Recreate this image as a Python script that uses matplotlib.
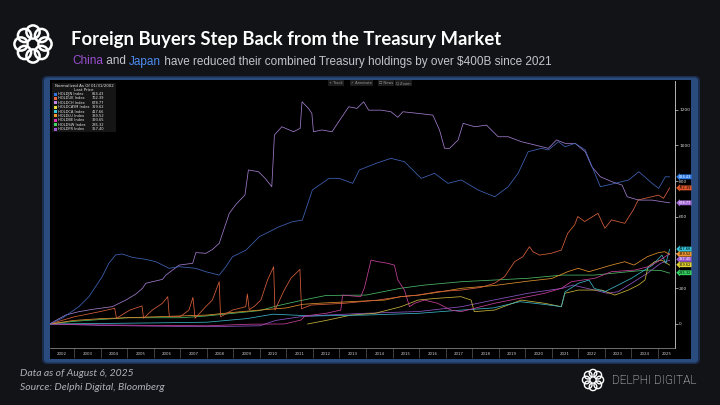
import matplotlib
matplotlib.use('Agg')
import matplotlib.pyplot as plt
from matplotlib.patches import FancyBboxPatch, Rectangle, Circle
import matplotlib.transforms as mtransforms
import numpy as np

# ---------------- data ----------------
years = list(range(2002, 2026))

jn_t = [2002.08, 2002.55, 2003.18, 2003.56, 2004.06, 2004.31, 2004.57, 2004.82, 2005.2, 2005.7,
        2006.08, 2006.58, 2006.96, 2007.58, 2007.96, 2008.47, 2008.72, 2008.97, 2009.48, 2009.98,
        2010.73, 2011.23, 2011.6, 2011.98, 2012.61, 2012.99, 2013.5, 2013.75, 2014.38, 2014.94,
        2015.45, 2016.08, 2016.58, 2017.09, 2017.59, 2018.22, 2018.85, 2019.36, 2019.73, 2020.11,
        2020.61, 2020.87, 2021.25, 2021.5, 2021.88, 2022.26, 2022.83, 2023.39, 2023.9, 2024.28,
        2024.78, 2025.03, 2025.28, 2025.44]
jn_v = [0, 32, 97, 153, 265, 340, 387, 392, 373, 362,
        349, 312, 321, 312, 293, 274, 321, 377, 414, 489,
        545, 573, 582, 751, 816, 816, 788, 863, 900, 928,
        909, 816, 844, 788, 807, 751, 713, 769, 844, 965,
        984, 975, 1021, 993, 1012, 975, 769, 788, 807, 853,
        788, 760, 825, 824]

ch_t = [2002.08, 2002.68, 2003.18, 2003.69, 2004.44, 2004.95, 2005.33, 2005.58, 2005.7, 2006.33,
        2006.46, 2006.96, 2007.47, 2007.59, 2007.97, 2008.22, 2008.47, 2008.85, 2009.1, 2009.44,
        2009.57, 2009.95, 2010.2, 2010.45, 2010.55, 2010.83, 2011.27, 2011.52, 2011.59, 2011.83,
        2011.96, 2012.02, 2012.34, 2012.72, 2012.97, 2013.35, 2013.66, 2013.91, 2014.1, 2014.57,
        2014.94, 2015.2, 2015.39, 2015.96, 2016.52, 2016.77, 2016.96, 2017.15, 2017.47, 2017.66,
        2018.1, 2018.54, 2018.98, 2019.36, 2019.86, 2020.36, 2020.87, 2021.18, 2021.5, 2021.88,
        2022.26, 2022.51, 2022.83, 2023.27, 2023.65, 2023.84, 2024.28, 2024.78, 2025.16, 2025.44]
ch_v = [0, 50, 69, 82, 97, 134, 168, 200, 228, 250,
        274, 330, 340, 400, 396, 418, 452, 620, 670, 723,
        863, 853, 816, 769, 1059, 1105, 1077, 1096, 1245, 1208,
        1180, 1077, 1087, 1077, 1133, 1217, 1208, 1245, 1198, 1198,
        1189, 1158, 1189, 1180, 1170, 1087, 984, 984, 1031, 1124,
        1105, 1114, 1049, 1049, 1021, 1003, 984, 1031, 1012, 1012,
        965, 881, 825, 797, 778, 713, 694, 694, 685, 679]

uk_t = [2002.08, 2003.0, 2004.0, 2004.53, 2004.6, 2005.1, 2005.56, 2005.62, 2005.95, 2006.33,
        2006.53, 2006.59, 2007.0, 2007.33, 2007.48, 2007.56, 2007.96, 2008.21, 2008.47, 2008.52,
        2008.97, 2009.47, 2009.53, 2009.6, 2009.8, 2010.04, 2010.29, 2010.52, 2010.57, 2010.92,
        2011.17, 2011.51, 2011.57, 2011.92, 2013.18, 2014.44, 2015.32, 2015.95, 2016.7, 2017.58,
        2018.33, 2018.84, 2019.22, 2019.6, 2019.91, 2020.16, 2020.29, 2020.54, 2020.98, 2021.36,
        2021.6, 2021.86, 2021.98, 2022.24, 2022.74, 2023.0, 2023.25, 2023.75, 2024.07, 2024.26,
        2024.77, 2025.02, 2025.21, 2025.44]
uk_v = [0, 40, 70, 88, 32, 78, 101, 32, 78, 116,
        153, 41, 41, 78, 149, 32, 97, 134, 237, 40,
        78, 97, 168, 80, 100, 134, 246, 321, 78, 190,
        256, 306, 85, 106, 116, 134, 153, 162, 181, 190,
        205, 228, 265, 349, 377, 433, 405, 386, 396, 414,
        508, 555, 602, 574, 620, 536, 583, 564, 639, 695,
        713, 722, 704, 762]

be_t = [2002.08, 2004.0, 2006.0, 2008.0, 2009.66, 2010.92, 2011.55, 2011.7, 2012.5, 2013.05,
        2013.12, 2013.8, 2013.94, 2014.19, 2014.45, 2014.82, 2015.07, 2015.2, 2015.45, 2015.64,
        2015.83, 2016.2, 2016.7, 2017.2, 2017.58, 2018.84, 2020.1, 2020.73, 2021.36, 2021.74,
        2022.62, 2023.25, 2024.13, 2024.63, 2025.0, 2025.2, 2025.44]
be_v = [0, -5, -8, -10, -1, 0, 22, 45, 60, 78,
        162, 153, 202, 358, 349, 340, 330, 246, 190, 97,
        116, 134, 116, 78, 69, 116, 153, 172, 200, 237,
        256, 293, 302, 321, 350, 370, 394]

lu_t = [2002.08, 2003.0, 2004.0, 2005.0, 2006.0, 2007.0, 2008.0, 2009.0, 2010.0, 2011.0,
        2011.6, 2012.2, 2013.4, 2014.7, 2015.3, 2016.0, 2016.6, 2017.6, 2018.8, 2020.1,
        2021.0, 2021.6, 2022.0, 2022.4, 2023.25, 2023.75, 2024.1, 2024.6, 2025.0, 2025.25, 2025.44]
lu_v = [0, 20, 30, 35, 40, 45, 50, 65, 78, 90,
        110, 116, 125, 134, 153, 162, 175, 200, 215, 240,
        255, 293, 312, 293, 330, 349, 330, 377, 399, 405, 390]

ca_t = [2002.08, 2004.0, 2006.0, 2008.0, 2009.5, 2010.5, 2012.0, 2014.0, 2016.0, 2017.6,
        2018.8, 2019.8, 2020.7, 2021.36, 2021.5, 2022.0, 2022.4, 2022.6, 2023.0, 2023.5,
        2024.0, 2024.4, 2024.8, 2025.15, 2025.3, 2025.44]
ca_v = [0, 3, 6, 10, 30, 55, 45, 50, 60, 78,
        90, 125, 110, 97, 180, 228, 246, 200, 181, 218,
        256, 293, 330, 386, 340, 418]

sw_t = [2002.08, 2003.0, 2004.0, 2005.0, 2006.0, 2007.0, 2008.0, 2009.0, 2010.0, 2010.6,
        2011.5, 2012.5, 2014.0, 2015.3, 2016.2, 2017.6, 2018.8, 2020.1, 2021.4, 2022.6,
        2023.9, 2024.6, 2025.1, 2025.44]
sw_v = [0, 15, 25, 35, 35, 35, 45, 60, 75, 100,
        130, 160, 162, 200, 218, 237, 246, 256, 274, 274,
        293, 302, 300, 285]

cy_t = [2011.8, 2012.5, 2013.44, 2014.35, 2015.32, 2015.96, 2016.59, 2017.58, 2017.96, 2018.08,
        2018.84, 2019.85, 2020.73, 2021.36, 2021.49, 2022.0, 2022.88, 2023.38, 2023.88, 2024.26,
        2024.51, 2024.63, 2024.88, 2025.14, 2025.44]
cy_v = [0, 20, 50, 60, 97, 134, 143, 153, 134, 69,
        78, 134, 116, 97, 172, 190, 190, 162, 190, 218,
        246, 321, 349, 358, 330]

fr_t = [2002.08, 2004.0, 2006.0, 2008.0, 2010.0, 2010.6, 2011.5, 2012.5, 2014.0, 2016.0,
        2017.6, 2018.8, 2020.1, 2021.4, 2021.8, 2022.6, 2023.1, 2023.5, 2024.1, 2024.6,
        2025.1, 2025.44]
fr_v = [0, -8, -12, -15, -10, 20, 40, 50, 60, 70,
        97, 134, 172, 200, 218, 190, 172, 181, 237, 284,
        340, 357]

legend_names = ['HOLDJN Index', 'HOLDUK Index', 'HOLDCH Index', 'HOLDCAYM Index', 'HOLDCA Index',
                'HOLDLU Index', 'HOLDBE Index', 'HOLDSW Index', 'HOLDFR Index']
legend_last = [824.43, 762.39, 678.77, 329.62, 417.66, 389.52, 393.65, 285.32, 357.40]
legend_colors = ['#2f74e0', '#e4623a', '#c487e6', '#e8dc3c', '#3cc8dc', '#f0982c', '#e036b4',
                 '#3ed860', '#a056d6']
yticks = [0, 200, 400, 600, 800, 1000, 1200]
ytick_labels = ['0', '200', '', '600', '800', '1000', '1200']  # 400 is hidden behind the tags

# ---------------- figure ----------------
W, H = 720, 405
fig = plt.figure(figsize=(7.2, 4.05), dpi=100, facecolor='#111317')

bg = fig.add_axes([0, 0, 1, 1], zorder=0)
bg.set_xlim(0, W); bg.set_ylim(H, 0); bg.axis('off')
bg.set_facecolor('#111317')

# panel frame
bg.add_patch(FancyBboxPatch((42, 76), 658, 288, boxstyle='round,pad=0,rounding_size=5',
                            fc='#1a2d4c', ec='none'))
bg.add_patch(FancyBboxPatch((44, 77.5), 654, 285, boxstyle='round,pad=0,rounding_size=4',
                            fc='#2a4b7e', ec='none'))
bg.add_patch(Rectangle((49.5, 80), 641, 279, fc='#000000', ec='none'))


def draw_logo(ax, cx, cy, R, r, lw):
    for k in range(8):
        a = 2 * np.pi * k / 8
        ax.add_patch(Circle((cx + R * np.cos(a), cy + R * np.sin(a)), r, fill=False,
                            ec='white', lw=lw))


draw_logo(bg, 33, 44, 12.0, 6.6, 1.8)
draw_logo(bg, 593, 380, 6.8, 3.8, 1.0)

# title / subtitle
bg.text(71, 40, 'Foreign Buyers Step Back from the Treasury Market', color='white',
        fontsize=13.35, fontweight='bold', family='Lato', va='center', ha='left')

fig.canvas.draw()
renderer = fig.canvas.get_renderer()
segs = [('China', '#9a4fcf'), (' and ', '#c2c5cc'), ('Japan', '#4d8cf0'),
        (' have reduced their combined Treasury holdings by over $400B since 2021', '#c2c5cc')]
x0 = 72
for s, c in segs:
    t = bg.text(x0, 61.5, s, color=c, fontsize=8.5, family='Liberation Sans', va='center', ha='left')
    bb = t.get_window_extent(renderer=renderer)
    x0 += bb.width

bg.text(20, 373, 'Data as of August 6, 2025', color='#aeb1b8', fontsize=7.5, style='italic',
        family='Lato', va='center', ha='left')
bg.text(20, 388, 'Source: Delphi Digital, Bloomberg', color='#aeb1b8', fontsize=7.5, style='italic',
        family='Lato', va='center', ha='left')
bg.text(612, 381, 'DELPHI DIGITAL', color='white', fontsize=8.6, family='Roboto',
        fontweight='light', va='center', ha='left')

# ---------------- chart axes ----------------
px_l, px_r, px_t, px_b = 49.5, 675, 81, 348
ax = fig.add_axes([px_l / W, 1 - px_b / H, (px_r - px_l) / W, (px_b - px_t) / H], zorder=2)
ax.set_facecolor('#000000')
ax.set_xlim(2002.075, 2025.643)
ax.set_ylim(-134.5, 1361.3)
for sp in ['left', 'top']:
    ax.spines[sp].set_visible(False)
ax.spines['right'].set_color('#cfcfcf'); ax.spines['right'].set_linewidth(0.6)
ax.spines['bottom'].set_color('#9a9a9a'); ax.spines['bottom'].set_linewidth(0.5)

series = [
    (fr_t, fr_v, '#8d55c4'),
    (cy_t, cy_v, '#c9b23a'),
    (sw_t, sw_v, '#4cba68'),
    (ca_t, ca_v, '#3bb4c8'),
    (be_t, be_v, '#c8409c'),
    (lu_t, lu_v, '#e0902c'),
    (uk_t, uk_v, '#d9603c'),
    (ch_t, ch_v, '#a07ccc'),
    (jn_t, jn_v, '#4064b8'),
]
for t, v, c in series:
    ax.plot(t, v, color=c, lw=0.55, solid_joinstyle='round')

ax.yaxis.tick_right()
ax.set_yticks(yticks)
ax.set_yticklabels(ytick_labels)
ax.tick_params(axis='y', which='major', length=2, width=0.5, color='#cfcfcf', labelsize=3.2,
               labelcolor='#d8d8d8', pad=1)

bounds = years[1:]
ax.set_xticks(bounds)
ax.set_xticklabels([''] * len(bounds))
lo, hi = ax.get_xlim()
edges = [lo] + bounds + [hi]
centers = [(edges[i] + edges[i + 1]) / 2 for i in range(len(edges) - 1)]
ax.set_xticks(centers, minor=True)
ax.set_xticklabels([str(y) for y in years], minor=True)
ax.tick_params(axis='x', which='major', length=7, width=0.4, color='#6f6f6f', direction='out')
ax.tick_params(axis='x', which='minor', length=0, labelsize=2.8, labelcolor='#d0d0d0', pad=3.2)

# last value tags on the right (label value, tag position, colours)
tags = [(824.43, 824.43, '#2f7be6', 'white'), (762.39, 762.39, '#e2582c', 'black'),
        (678.77, 678.77, '#a66ad8', 'white'), (417.66, 419.5, '#34c2d8', 'black'),
        (389.52, 391.0, '#ec9530', 'black'), (357.40, 362.0, '#9c5ad2', 'white'),
        (329.62, 332.0, '#e2d234', 'black'), (285.32, 287.0, '#34d060', 'black')]
trans = mtransforms.blended_transform_factory(ax.transAxes, ax.transData)
for val, pos, fc, tc in tags:
    ax.text(1.006, pos, f'{val:.2f}', transform=trans, fontsize=2.5, color=tc, ha='left',
            va='center', clip_on=False, zorder=10,
            bbox=dict(boxstyle='larrow,pad=0.12', fc=fc, ec='none'))

# ---------------- overlay: legend box and toolbar ----------------
ov = fig.add_axes([0, 0, 1, 1], zorder=4)
ov.set_xlim(0, W); ov.set_ylim(H, 0); ov.axis('off')
ov.patch.set_alpha(0)

ov.add_patch(Rectangle((52, 83), 64, 49, fc='#151515', ec='none'))
ov.text(84, 85.8, 'Normalized As Of 01/31/2002', color='#e6e6e6', fontsize=2.9, ha='center',
        va='center')
ov.text(84, 89.8, 'Last Price', color='#e6e6e6', fontsize=2.9, ha='center', va='center')
for i, (nm, lv, col) in enumerate(zip(legend_names, legend_last, legend_colors)):
    yy = 94 + i * 4.38
    ov.add_patch(Rectangle((54, yy - 1.5), 3, 3, fc=col, ec='none'))
    ov.text(58.2, yy, nm, color='#e6e6e6', fontsize=2.6, ha='left', va='center')
    ov.text(104.5, yy, f'{lv:.2f}', color='#e6e6e6', fontsize=2.6, ha='right', va='center')

for xb, lab in [(329, '+ Track'), (351, '\u2713 Annotate'), (379, '\u2610 News'), (396, 'Q Zoom')]:
    ov.text(xb, 83.3, lab, color='#9a9a9a', fontsize=2.6, ha='left', va='center',
            bbox=dict(boxstyle='square,pad=0.25', fc='#1c1c1c', ec='none'))

fig.savefig('out.png', dpi=100, facecolor=fig.get_facecolor())
